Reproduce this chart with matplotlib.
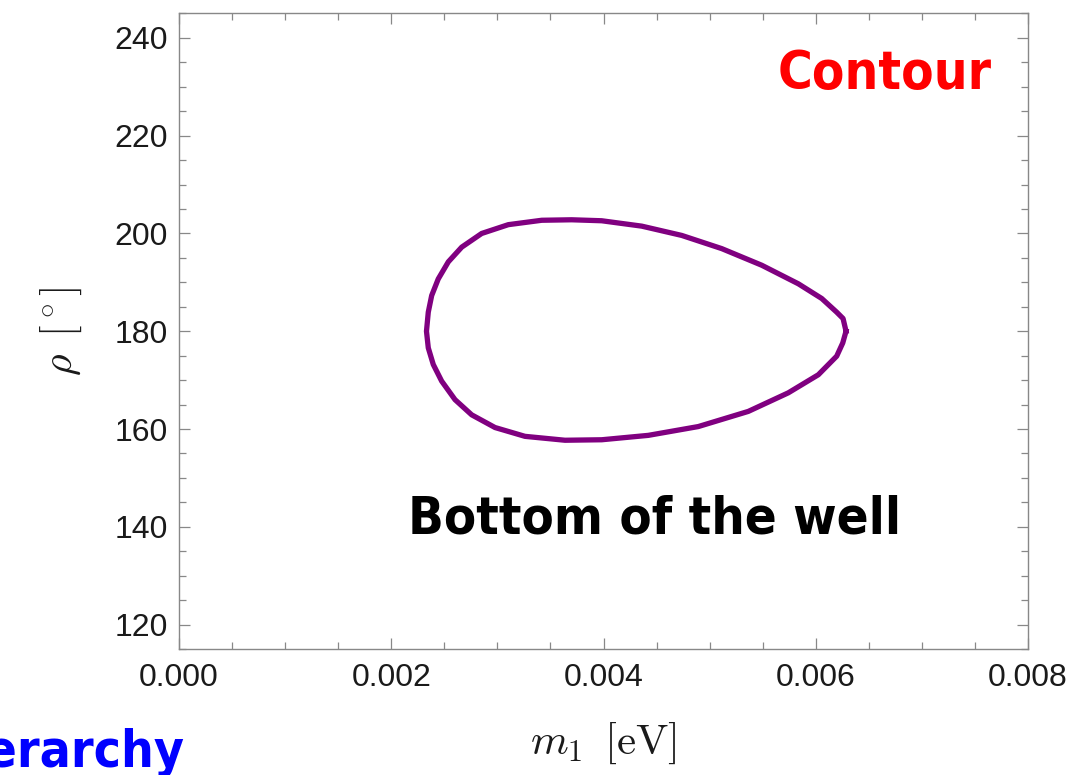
import matplotlib
matplotlib.use("Agg")
import matplotlib.pyplot as plt
from matplotlib.ticker import MultipleLocator, FormatStrFormatter

plt.rcParams['mathtext.fontset'] = 'cm'

# contour, going round from the right tip over the top,
# down the left side and back along the bottom
m1 = [0.006285, 0.006257, 0.006197, 0.006056, 0.005836, 0.005491, 0.005114,
      0.004737, 0.004360, 0.003983, 0.003700, 0.003418, 0.003103, 0.002852,
      0.002664, 0.002538, 0.002443, 0.002381, 0.002349, 0.002332,
      0.002349, 0.002396, 0.002475, 0.002601, 0.002758, 0.002978, 0.003260,
      0.003637, 0.003983, 0.004422, 0.004893, 0.005364, 0.005741, 0.006024,
      0.006197, 0.006254, 0.006285]
rho = [180.0, 182.6, 183.9, 186.7, 189.7, 193.5, 196.9,
       199.6, 201.5, 202.6, 202.8, 202.7, 201.8, 200.0,
       197.2, 194.2, 190.7, 187.3, 183.9, 180.0,
       176.6, 173.2, 169.8, 166.0, 162.9, 160.3, 158.5,
       157.7, 157.8, 158.7, 160.5, 163.6, 167.4, 171.1,
       174.9, 177.6, 180.0]

xlim = (0.0, 0.008)
ylim = (115, 245)
xticks = [0.000, 0.002, 0.004, 0.006, 0.008]
yticks = [120, 140, 160, 180, 200, 220, 240]

fig = plt.figure(figsize=(10.71, 7.75), dpi=100)
ax = fig.add_axes([0.1671, 0.1626, 0.7928, 0.8200])

ax.plot(m1, rho, color='#800080', lw=3.8, solid_joinstyle='round')

ax.set_xlim(*xlim)
ax.set_ylim(*ylim)
ax.set_xticks(xticks)
ax.set_yticks(yticks)
ax.xaxis.set_major_formatter(FormatStrFormatter('%.3f'))
ax.xaxis.set_minor_locator(MultipleLocator(0.0005))
ax.yaxis.set_minor_locator(MultipleLocator(5))

for s in ax.spines.values():
    s.set_color('#888888')
    s.set_linewidth(1.0)

ax.tick_params(which='both', direction='in', top=True, right=True,
               color='#888888', width=0.9)
ax.tick_params(which='major', length=8)
ax.tick_params(which='minor', length=4.7)
ax.tick_params(axis='x', which='major', pad=10)
ax.tick_params(axis='y', which='major', pad=8)
for lab in ax.get_xticklabels() + ax.get_yticklabels():
    lab.set_fontfamily('Liberation Sans')
    lab.set_fontsize(23)
    lab.set_color('#1a1a1a')

ax.set_xlabel(r'$m_1\ \, [\mathrm{eV}]$', fontsize=31, color='#1a1a1a', labelpad=20)
ax.set_ylabel(r'$\rho\ \, [^\circ]$', fontsize=30, color='#1a1a1a', labelpad=22)

ax.text(0.8316, 0.9048, 'Contour', transform=ax.transAxes, color='red',
        fontsize=38, fontweight='bold', fontstretch='condensed',
        ha='center', va='center')
ax.text(0.5607, 0.203, 'Bottom of the well', transform=ax.transAxes,
        color='black', fontsize=37.7, fontweight='bold', fontstretch='condensed',
        ha='center', va='center')

# label that runs off the left edge in the original slide
fig.text(0.1727, 0.0103, 'Hierarchy', color='#0000ff', fontsize=37,
         fontweight='bold', fontstretch='condensed', ha='right', va='baseline')

fig.savefig('out.png', dpi=100)
